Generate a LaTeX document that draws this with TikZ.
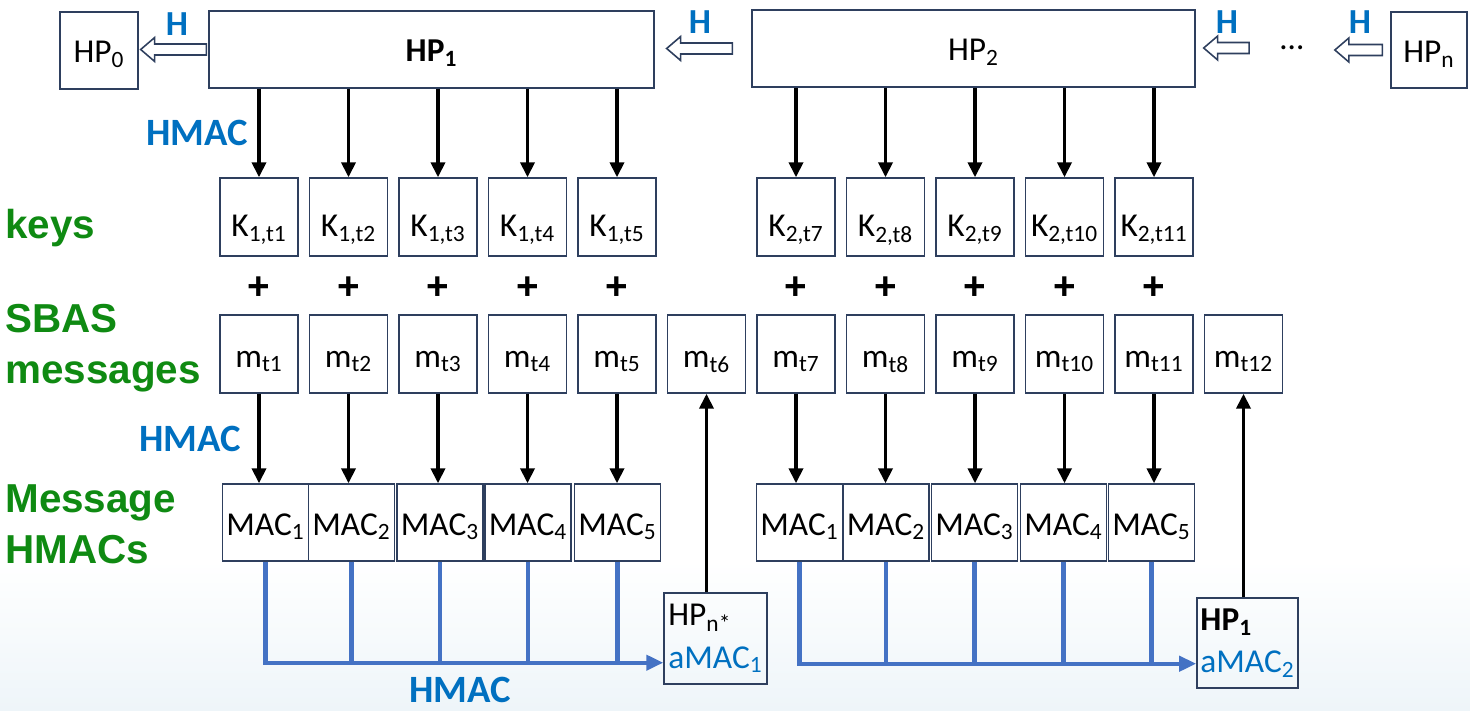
\documentclass[tikz,border=0pt]{standalone}
\usepackage{fontspec}
\setmainfont{Carlito}
\newfontfamily\greensans{Liberation Sans}
\usepackage{xcolor}
\usepackage{tikz}
\usetikzlibrary{calc,arrows.meta}
\definecolor{hpnavy}{HTML}{2E3F5E}
\definecolor{hpblue}{HTML}{0070C0}
\definecolor{hpline}{HTML}{4472C4}
\definecolor{hpgreen}{HTML}{0F8A12}
\definecolor{hpshade}{HTML}{EEF5F9}

\begin{document}
\begin{tikzpicture}[x=0.02cm, y=-0.02cm,
  plainbox/.style={draw=hpnavy, line width=0.8pt, inner sep=0pt, font=\fontsize{19}{24}\selectfont},
  hpbox/.style={plainbox, minimum height=1.54cm, text height=0.62cm, text depth=0.12cm},
  keybox/.style={plainbox, minimum width=1.56cm, minimum height=1.56cm, text height=0.92cm, text depth=0.12cm},
  msgbox/.style={plainbox, minimum width=1.56cm, minimum height=1.56cm, text height=0.64cm, text depth=0.12cm},
  macbox/.style={plainbox, minimum width=1.72cm, minimum height=1.54cm, text height=0.62cm, text depth=0.12cm},
  authbox/.style={plainbox, align=left, inner sep=2pt},
  sidelabel/.style={font=\greensans\bfseries\fontsize{23}{28.5}\selectfont, text=hpgreen, align=left, inner sep=0pt},
  hmaclabel/.style={font=\bfseries\fontsize{22}{26}\selectfont, text=hpblue, inner sep=0pt},
  hlabel/.style={font=\bfseries\fontsize{20}{24}\selectfont, text=hpblue, inner sep=0pt},
  plusnode/.style={font=\greensans\bfseries\fontsize{22}{24}\selectfont, inner sep=0pt},
  blackarrow/.style={line width=2.1pt, -{Triangle[length=0.3cm, width=0.28cm]}},
  blueline/.style={draw=hpline, line width=2.3pt},
  bluearrow/.style={blueline, -{Triangle[length=0.34cm, width=0.3cm]}},
  hollowarrow/.style 2 args={draw=hpnavy, line width=0.9pt, to path={
    let \p1=(\tikztostart), \p2=(\tikztotarget) in
    (\x1-#1,\y1+0.11cm) -- (\x2+#2+0.28cm,\y1+0.11cm) -- (\x2+#2+0.28cm,\y1+0.24cm)
    -- (\x2+#2,\y1) -- (\x2+#2+0.28cm,\y1-0.24cm) -- (\x2+#2+0.28cm,\y1-0.11cm)
    -- (\x1-#1,\y1-0.11cm) -- cycle}}
]
  \useasboundingbox (0,0) rectangle (1470,710);
  \shade[top color=white, bottom color=hpshade] (0,560) rectangle (1470,710);

  \node[hpbox, minimum width=1.56cm] (hp0) at (99,50.5) {HP\textsubscript{0}};
  \node[hpbox, minimum width=8.9cm, font=\fontsize{19}{24}\selectfont\bfseries] (hp1) at (431.5,49.5) {HP\textsubscript{1}};
  \node[hpbox, minimum width=8.86cm] (hp2) at (973.5,48.5) {HP\textsubscript{2}};
  \node[inner sep=0pt, minimum width=1.7cm, font=\fontsize{19}{24}\selectfont] (dots) at (1292,48) {…};
  \node[hpbox, minimum width=1.52cm, minimum height=1.52cm] (hpn) at (1429,50) {HP\textsubscript{n}};

  \draw[hollowarrow={0.04cm}{0.04cm}] (hp1.west) to (hp0.east);
  \draw[hollowarrow={0.38cm}{0.24cm}] (hp2.west) to (hp1.east);
  \draw[hollowarrow={0cm}{0.16cm}] (dots.west) to (hp2.east);
  \draw[hollowarrow={0.16cm}{0cm}] (hpn.west) to (dots.east);
  \node[hlabel] (h1) at (177,24) {H};
  \node[hlabel] (h2) at (700,22) {H};
  \node[hlabel] (h3) at (1227,22) {H};
  \node[hlabel] (h4) at (1360,22) {H};

  \node[sidelabel, anchor=base west] (keys) at (5,238) {keys};
  \node[sidelabel, anchor=base west] (sbas) at (5,383) {SBAS\\messages};
  \node[sidelabel, anchor=base west] (machs) at (5,563) {Message\\HMACs};
  \node[hmaclabel] (hmactop) at (197,133) {HMAC};
  \node[hmaclabel] (hmacmid) at (190,439) {HMAC};
  \node[hmaclabel] (hmacbot) at (460,690) {HMAC};

  \foreach \i in {1,...,5} {
    \node[keybox] (k\i) at ({259+89.5*(\i-1)},217) {K\textsubscript{1,t\i}};
    \draw[blackarrow] (hp1.south -| k\i) -- (k\i.north);
  }
  \foreach \i in {7,...,11} {
    \node[keybox] (k\i) at ({259+89.5*(\i-1)},217) {K\textsubscript{2,t\i}};
    \draw[blackarrow] (hp2.south -| k\i) -- (k\i.north);
  }
  \foreach \i in {1,...,5,7,8,9,10,11}
    \node[plusnode] (plus\i) at ({259+89.5*(\i-1)},288) {+};
  \foreach \i in {1,...,12}
    \node[msgbox] (m\i) at ({259+89.5*(\i-1)},354) {m\textsubscript{t\i}};

  \foreach \i/\x/\n in {1/265.5/1,2/351.5/2,3/440/3,4/528/4,5/617.5/5,7/799.5/1,8/886/2,9/974.5/3,10/1063.5/4,11/1151.5/5} {
    \node[macbox] (mac\i) at (\x,522.5) {MAC\textsubscript{\n}};
    \draw[blackarrow] (m\i.south) -- (m\i.south |- mac\i.north);
  }

  \node[authbox, minimum width=2.06cm, minimum height=1.82cm] (hpns) at (715.5,638.5) {HP\textsubscript{n*}\\\textcolor{hpblue}{aMAC\textsubscript{1}}};
  \node[authbox, minimum width=2.02cm, minimum height=1.8cm] (hpb) at (1247.5,643) {\textbf{HP\textsubscript{1}}\\\textcolor{hpblue}{aMAC\textsubscript{2}}};
  \draw[blackarrow] (hpns.north -| m6) -- (m6.south);
  \draw[blackarrow] (hpb.north -| m12) -- (m12.south);

  \coordinate (busa) at ([yshift=0.44cm]hpns.south west);
  \coordinate (busb) at ([yshift=0.5cm]hpb.south west);
  \draw[bluearrow] (mac1.south) |- (busa);
  \foreach \i in {2,...,5}
    \draw[blueline] (mac\i.south) -- (mac\i.south |- busa);
  \draw[bluearrow] (mac7.south) |- (busb);
  \foreach \i in {8,...,11}
    \draw[blueline] (mac\i.south) -- (mac\i.south |- busb);
\end{tikzpicture}
\end{document}
